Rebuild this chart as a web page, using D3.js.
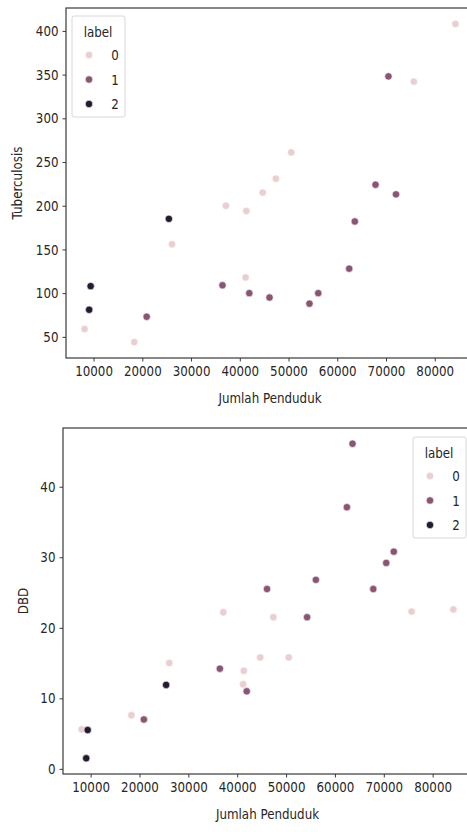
<!DOCTYPE html>
<html>
<head>
<meta charset="utf-8">
<script src="https://cdn.jsdelivr.net/npm/d3@7"></script>
<style>
  html, body { margin: 0; padding: 0; background: #fff; }
  svg { display: block; }
  text { font-family: "DejaVu Sans", sans-serif; fill: #262626; }
</style>
</head>
<body>
<div id="chart"></div>
<script>
// data
const jumlahPenduduk = [8150, 9100, 9400, 18350, 20900, 25450, 26100, 36450, 37150, 41200, 41350, 41950,
  44700, 46100, 47400, 50550, 54300, 56100, 62450, 63600, 67850, 70500, 72050, 75700, 84250];
const tuberculosis = [59, 81, 108, 44, 73, 185, 156, 109, 200, 118, 194, 100,
  215, 95, 231, 261, 88, 100, 128, 182, 224, 348, 213, 342, 408];
const dbd = [5.6, 1.5, 5.5, 7.6, 7.0, 11.9, 15.0, 14.2, 22.2, 12.0, 13.9, 11.0,
  15.8, 25.5, 21.5, 15.8, 21.5, 26.8, 37.1, 46.1, 25.5, 29.2, 30.8, 22.3, 22.6];
const labels = [0, 2, 2, 0, 1, 2, 0, 1, 0, 0, 0, 1,
  0, 1, 0, 0, 1, 1, 1, 1, 1, 1, 1, 0, 0];

const xTicks = [10000, 20000, 30000, 40000, 50000, 60000, 70000, 80000];
const tbTicks = [50, 100, 150, 200, 250, 300, 350, 400];
const dbdTicks = [0, 10, 20, 30, 40];
const legendLabels = [0, 1, 2];

const W = 467, H = 832;
const SX = 0.82;   // the picture's text is squeezed sideways
const FS = 14.5;

const color = d3.scaleOrdinal().domain([0, 1, 2]).range(['#e9cfd0', '#8a5572', '#261a32']);

const svg = d3.select('#chart').append('svg')
  .attr('width', W)
  .attr('height', H);

// matplotlib style 5% padding
function padded(vals) {
  const [a, b] = d3.extent(vals);
  const m = (b - a) * 0.05;
  return [a - m, b + m];
}

function squeeze(sel) {
  sel.each(function () {
    const t = d3.select(this);
    const x = +t.attr('x') || 0;
    t.attr('x', x / SX).attr('transform', `scale(${SX},1)`);
  });
}

function scatter(cfg) {
  const g = svg.append('g');
  const x = d3.scaleLinear().domain(padded(jumlahPenduduk)).range([cfg.left, cfg.right]);
  const y = d3.scaleLinear().domain(padded(cfg.values)).range([cfg.bottom, cfg.top]);

  // frame
  g.append('rect')
    .attr('x', cfg.left).attr('y', cfg.top)
    .attr('width', cfg.right - cfg.left).attr('height', cfg.bottom - cfg.top)
    .attr('fill', 'none').attr('stroke', '#3a3a3a').attr('stroke-width', 1.2);

  const xa = g.append('g')
    .attr('transform', `translate(0,${cfg.bottom})`)
    .call(d3.axisBottom(x).tickValues(xTicks).tickFormat(d3.format('d')).tickSize(3.5).tickPadding(4));
  const ya = g.append('g')
    .attr('transform', `translate(${cfg.left},0)`)
    .call(d3.axisLeft(y).tickValues(cfg.ticks).tickFormat(d3.format('d')).tickSize(3.5).tickPadding(4));

  [xa, ya].forEach(a => {
    a.select('.domain').remove();
    a.selectAll('.tick line').attr('stroke', '#3a3a3a');
    a.selectAll('.tick text').attr('font-size', FS).attr('fill', '#262626')
      .attr('font-family', '"DejaVu Sans", sans-serif');
    squeeze(a.selectAll('.tick text'));
  });

  g.append('text')
    .attr('transform', `translate(${(cfg.left + cfg.right) / 2},${cfg.bottom + 45}) scale(${SX},1)`)
    .attr('text-anchor', 'middle').attr('font-size', FS)
    .text('Jumlah Penduduk');

  g.append('text')
    .attr('transform', `translate(${cfg.ylabX},${(cfg.top + cfg.bottom) / 2}) rotate(-90) scale(${SX},1)`)
    .attr('text-anchor', 'middle').attr('font-size', FS)
    .text(cfg.ylab);

  const idx = d3.range(jumlahPenduduk.length);
  g.append('g').selectAll('circle')
    .data(idx)
    .join('circle')
    .attr('cx', i => x(jumlahPenduduk[i]))
    .attr('cy', i => y(cfg.values[i]))
    .attr('r', 3.7)
    .attr('fill', i => color(labels[i]))
    .attr('stroke', '#fff')
    .attr('stroke-width', 0.6);

  // legend
  const lg = g.append('g').attr('transform', `translate(${cfg.legX},${cfg.legY})`);
  lg.append('rect')
    .attr('width', 53).attr('height', 101).attr('rx', 2)
    .attr('fill', '#fff').attr('fill-opacity', 0.8)
    .attr('stroke', '#d8d8d8').attr('stroke-width', 1);
  lg.append('text')
    .attr('transform', `translate(26,21) scale(${SX},1)`)
    .attr('text-anchor', 'middle').attr('font-size', FS)
    .text('label');
  const items = lg.selectAll('g.item')
    .data(legendLabels)
    .join('g')
    .attr('class', 'item')
    .attr('transform', (d, i) => `translate(0,${39 + i * 24.5})`);
  items.append('circle')
    .attr('cx', 17).attr('cy', 0).attr('r', 3.7)
    .attr('fill', d => color(d))
    .attr('stroke', '#fff').attr('stroke-width', 0.6);
  items.append('text')
    .attr('transform', `translate(43,5) scale(${SX},1)`)
    .attr('text-anchor', 'middle').attr('font-size', FS)
    .text(d => d);
}

scatter({
  values: tuberculosis, ticks: tbTicks, ylab: 'Tuberculosis',
  left: 66, right: 474, top: 8, bottom: 358,
  ylabX: 22, legX: 72, legY: 16
});

scatter({
  values: dbd, ticks: dbdTicks, ylab: 'DBD',
  left: 63, right: 472, top: 428, bottom: 774,
  ylabX: 28, legX: 413, legY: 437
});
</script>
</body>
</html>
